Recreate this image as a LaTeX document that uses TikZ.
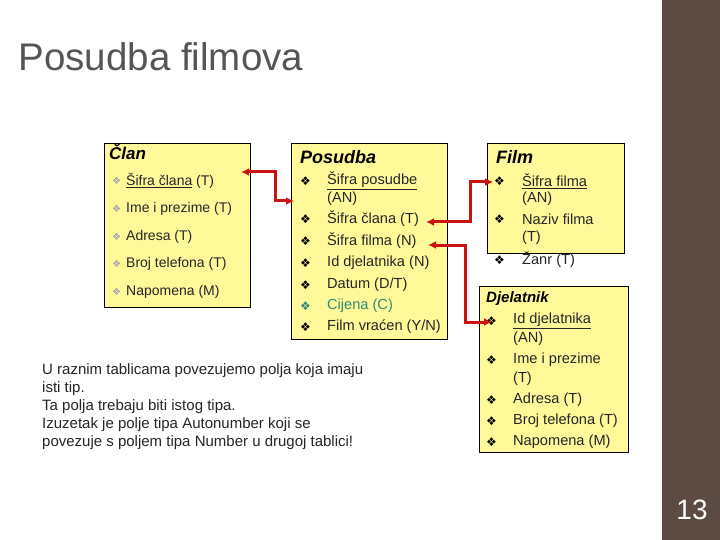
\documentclass[tikz,border=0pt]{standalone}
\usepackage{fontspec}
\setmainfont{Liberation Sans}
\newfontfamily\sym{DejaVu Sans}
\usetikzlibrary{arrows.meta}
\definecolor{boxy}{HTML}{FFF99A}
\definecolor{bar}{HTML}{5B4B43}
\definecolor{redl}{HTML}{CC1111}
\definecolor{teal2}{HTML}{2E8B7A}
\definecolor{titleg}{HTML}{555555}
\begin{document}
\begin{tikzpicture}[x=1pt,y=-1pt,
  tbl/.style={draw=black,fill=boxy,line width=0.6pt,inner sep=0},
  it/.style={anchor=west,inner sep=0,font=\fontsize{14.6}{16}\selectfont,text=black!85},
  itc/.style={anchor=west,inner sep=0,font=\fontsize{14}{15}\selectfont,text=black!85},
  bl/.style={anchor=west,inner sep=0,font=\sym\fontsize{12}{13}\selectfont},
  blc/.style={anchor=west,inner sep=0,font=\sym\fontsize{10}{11}\selectfont,text=gray!70},
  hd/.style={anchor=west,inner sep=0,font=\bfseries\itshape\fontsize{18}{19}\selectfont},
  con/.style={draw=redl,line width=3pt,{Latex[length=8pt,width=8pt]}-{Latex[length=8pt,width=8pt]}}]
\useasboundingbox (0,0) rectangle (720,540);
\fill[white] (0,0) rectangle (720,540);
\fill[bar] (662,0) rectangle (720,540);
\node[anchor=center,text=white,font=\fontsize{28}{30}\selectfont] (pg) at (692,510) {13};
\node[anchor=west,text=titleg,font=\fontsize{38.5}{40}\selectfont] (title) at (15,57) {Posudba filmova};
% boxes
\node[tbl,minimum width=146,minimum height=164,anchor=north west] (clan) at (104,143) {};
\node[tbl,minimum width=156,minimum height=196,anchor=north west] (pos) at (291,143) {};
\node[tbl,minimum width=137,minimum height=110,anchor=north west] (film) at (487,143) {};
\node[tbl,minimum width=149,minimum height=166,anchor=north west] (dj) at (479,286) {};
% Clan
\node[hd,font=\bfseries\itshape\fontsize{17}{18}\selectfont] (ch) at (109,152) {Član};
\foreach \y/\t [count=\i] in {181/{\underline{Šifra člana} (T)},209/{Ime i prezime (T)},237/{Adresa (T)},264/{Broj telefona (T)},292/{Napomena (M)}}{
  \node[blc] (cb\i) at (112,\y) {❖};
  \node[itc] (ct\i) at (126,\y) {\t};}
% Posudba
\node[hd] (ph) at (300,157) {Posudba};
\node[it] (pt1) at (327,181) {\underline{Šifra posudbe}};
\node[it] (pt1b) at (327,199) {(AN)};
\foreach \y/\t [count=\i from 2] in {219/{Šifra člana (T)},241/{Šifra filma (N)},263/{Id djelatnika (N)},285/{Datum (D/T)},306/{\textcolor{teal2}{Cijena (C)}},327/{Film vraćen (Y/N)}}{
  \node[it] (pt\i) at (327,\y) {\t};}
\foreach \y/\c [count=\i] in {181/black,219/black,241/black,263/black,285/black,306/teal2,327/black}{
  \node[bl,text=\c] (pb\i) at (300,\y) {❖};}
% Film
\node[hd] (fh) at (496,157) {Film};
\node[bl] (fb1) at (494,181) {❖};
\node[it] (ft1) at (522,181) {\underline{Šifra filma}};
\node[it] (ft1b) at (522,199) {(AN)};
\node[bl] (fb2) at (494,219) {❖};
\node[it] (ft2) at (522,219) {Naziv filma};
\node[it] (ft2b) at (522,238) {(T)};
\node[bl] (fb3) at (494,260) {❖};
\node[it] (ft3) at (522,260) {Žanr (T)};
% Djelatnik
\node[hd,font=\bfseries\itshape\fontsize{15}{16}\selectfont] (dh) at (486,299) {Djelatnik};
\node[bl] (db1) at (486,321) {❖};
\node[it] (dt1) at (513,321) {\underline{Id djelatnika}};
\node[it] (dt1b) at (513,339) {(AN)};
\node[bl] (db2) at (486,360) {❖};
\node[it] (dt2) at (513,360) {Ime i prezime};
\node[it] (dt2b) at (513,379) {(T)};
\foreach \y/\t [count=\i from 3] in {400/{Adresa (T)},421/{Broj telefona (T)},442/{Napomena (M)}}{
  \node[bl] (db\i) at (486,\y) {❖};
  \node[it] (dt\i) at (513,\y) {\t};}
% note
\node[anchor=north west,align=left,inner sep=0,font=\fontsize{15}{18}\selectfont,text=black!85] (note) at (42,363)
{U raznim tablicama povezujemo polja koja imaju\\isti tip.\\Ta polja trebaju biti istog tipa.\\Izuzetak je polje tipa Autonumber koji se\\povezuje s poljem tipa Number u drugoj tablici!};
% connectors
\coordinate (a1) at (241,172); \coordinate (a2) at (294,201);
\draw[con] (a1) -- (275,172) |- (a2);
\coordinate (b1) at (426,222); \coordinate (b2) at (493,182);
\draw[con] (b1) -- (470,222) |- (b2);
\coordinate (c1) at (428,245); \coordinate (c2) at (492,322);
\draw[con] (c1) -- (465,245) |- (c2);
\end{tikzpicture}
\end{document}
